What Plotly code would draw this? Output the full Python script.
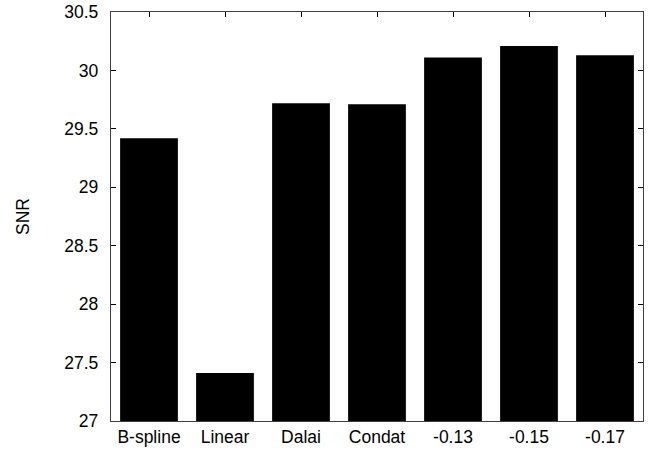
import plotly.graph_objects as go

categories = ["B-spline", "Linear", "Dalai", "Condat", "-0.13", "-0.15", "-0.17"]
snr_values = [29.42, 27.41, 29.72, 29.71, 30.11, 30.21, 30.13]
y_tick_values = [27, 27.5, 28, 28.5, 29, 29.5, 30, 30.5]
y_tick_labels = ["27", "27.5", "28", "28.5", "29", "29.5", "30", "30.5"]
y_base = 27

font_family = "Liberation Sans, Arial, Helvetica, sans-serif"

fig = go.Figure(
    go.Bar(
        x=categories,
        y=[v - y_base for v in snr_values],
        base=y_base,
        marker=dict(color="black", line=dict(width=0)),
        hoverinfo="skip",
    )
)

fig.update_layout(
    width=659,
    height=454,
    margin=dict(l=111, r=16, t=12, b=33, autoexpand=False),
    plot_bgcolor="white",
    paper_bgcolor="white",
    bargap=0.24,
    showlegend=False,
    hovermode=False,
    font=dict(family=font_family, size=17.5, color="black"),
)
fig.update_xaxes(
    type="category",
    range=[-0.5, 6.5],
    showline=True,
    linecolor="#404040",
    linewidth=1.2,
    mirror="ticks",
    ticks="inside",
    ticklen=5,
    tickcolor="black",
    showgrid=False,
    automargin=False,
    tickfont=dict(size=17.5),
)
fig.update_yaxes(
    range=[27, 30.5],
    tickvals=y_tick_values,
    ticktext=y_tick_labels,
    showline=True,
    linecolor="#404040",
    linewidth=1.2,
    mirror="ticks",
    ticks="inside",
    ticklen=5,
    tickcolor="black",
    showgrid=False,
    zeroline=False,
    automargin=False,
    tickfont=dict(size=17.5),
    ticklabelstandoff=8,
    title=dict(text="SNR", font=dict(size=17.5), standoff=30),
)

fig.write_html(
    "out.html",
    config={"displayModeBar": False, "staticPlot": True},
    post_script="document.body.style.margin='0';",
)
